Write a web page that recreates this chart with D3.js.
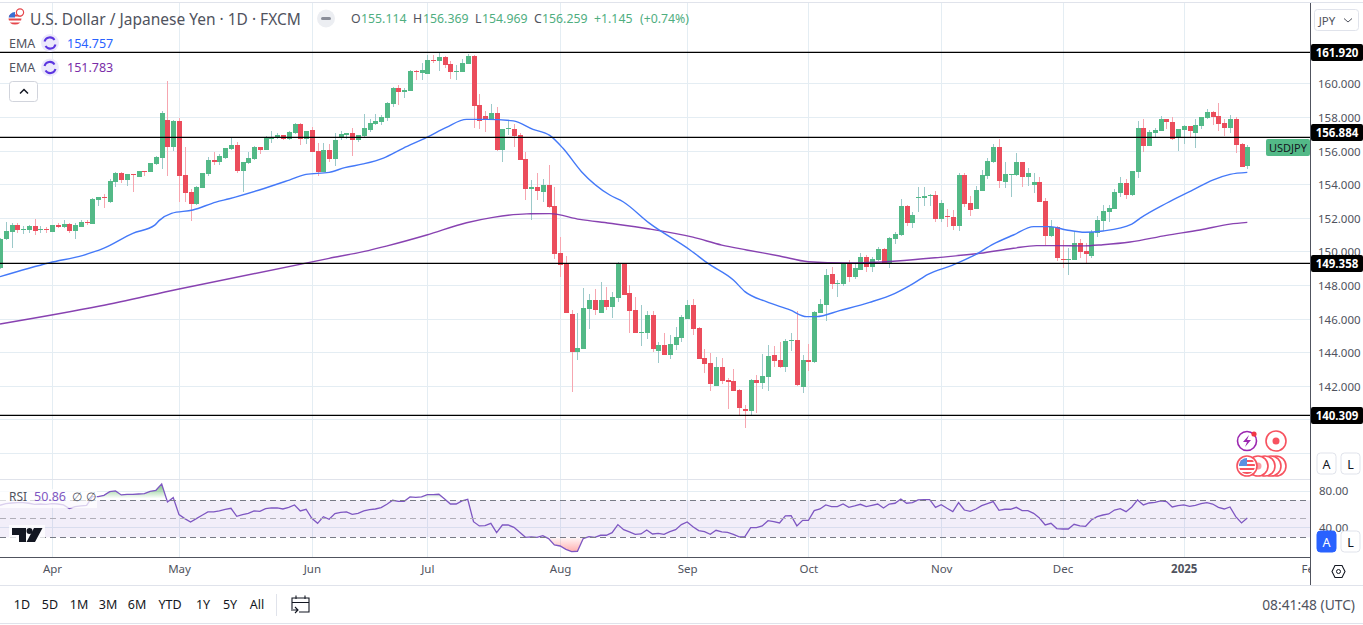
<!DOCTYPE html>
<html><head><meta charset="utf-8">
<style>html,body{margin:0;padding:0;background:#fff;overflow:hidden}svg{display:block}text{font-family:"Noto Sans",sans-serif}</style>
<script src="https://cdn.jsdelivr.net/npm/d3@7/dist/d3.min.js"></script>
</head><body><svg id="c" width="1363" height="625"></svg>
<script>
const opens=[149.08,150.79,151.23,151.60,151.35,151.35,151.56,151.35,151.39,151.23,
151.62,151.52,151.68,151.29,151.52,151.80,151.70,153.13,153.29,152.99,
154.20,154.72,154.32,154.66,154.50,154.84,154.78,155.25,155.63,157.87,
156.27,157.81,154.60,153.59,152.87,153.83,154.66,155.49,155.37,155.61,
156.15,156.39,154.84,155.31,155.55,156.27,156.09,156.74,156.80,156.98,
156.74,157.10,157.64,156.74,157.28,156.03,154.78,156.09,155.55,156.86,
156.98,157.10,156.69,156.92,157.28,157.64,157.76,157.99,158.83,159.78,
159.54,159.60,160.79,160.67,160.61,161.45,161.39,161.63,161.21,160.73,
160.73,161.21,161.69,158.77,158.11,157.93,158.29,156.09,157.34,157.34,
156.98,155.55,153.77,153.89,153.59,154.01,152.76,149.96,149.30,146.33,
144.07,144.24,146.62,147.16,146.39,147.16,146.74,147.28,149.30,147.58,
146.57,145.20,145.20,146.27,144.12,144.48,143.89,144.48,144.90,146.03,
146.86,145.49,143.71,143.41,142.04,143.17,142.40,142.34,141.80,140.67,
140.55,142.40,142.22,142.58,143.89,143.59,143.17,144.72,144.78,141.98,
143.59,143.47,146.39,146.86,148.71,148.11,148.11,149.30,148.53,148.95,
149.72,149.13,149.54,150.20,149.36,150.79,151.03,152.76,151.74,153.23,
153.23,153.35,153.41,151.98,152.16,152.10,151.57,154.60,152.93,152.58,
153.65,154.54,155.38,156.27,154.19,154.60,154.60,155.38,154.49,154.01,
154.19,153.05,150.97,151.51,149.60,149.54,149.54,150.55,150.08,149.78,
151.15,151.86,152.40,152.58,153.53,154.12,153.41,154.78,157.40,156.33,
157.10,157.22,157.94,157.76,156.80,157.28,157.52,157.10,157.52,157.99,
158.35,158.11,157.70,157.40,157.94,156.45,155.114];
const highs=[150.85,151.78,151.72,151.72,151.56,151.62,151.96,151.56,151.52,151.64,
151.76,151.92,151.76,151.72,151.92,151.92,153.23,153.29,153.47,154.36,
154.78,154.78,154.66,154.66,154.84,154.84,155.31,155.73,158.41,160.19,
157.87,157.97,156.27,153.77,153.95,154.72,155.67,155.97,155.85,156.21,
156.80,156.56,155.37,155.97,156.33,156.27,156.92,157.22,157.10,156.98,
157.22,157.70,157.70,157.22,157.46,156.50,156.50,156.44,157.10,157.22,
157.10,157.40,156.98,158.23,157.93,158.23,158.17,158.95,159.84,159.96,
159.78,160.85,160.85,161.27,161.74,161.74,161.92,161.69,161.39,161.15,
161.51,161.80,161.74,159.42,158.41,158.83,158.65,157.34,157.87,157.64,
157.10,155.97,154.30,154.72,154.36,155.20,153.89,150.91,149.78,146.57,
146.39,147.87,147.52,147.82,148.23,147.93,147.64,149.42,149.30,148.05,
147.34,146.86,146.51,146.51,144.66,145.20,145.08,145.55,146.27,147.16,
147.22,145.55,144.24,144.01,143.77,143.71,142.52,143.05,141.86,140.91,
142.46,142.70,143.95,144.48,144.42,144.66,144.84,145.20,146.51,143.89,
144.54,146.51,147.22,149.01,149.12,148.35,149.36,149.54,149.36,149.96,
149.84,149.72,150.32,150.26,150.91,151.21,153.17,152.82,152.40,153.89,
153.89,153.47,153.65,153.11,152.58,152.52,154.72,154.72,153.35,153.95,
154.90,155.61,156.45,156.74,155.38,154.66,155.91,155.38,155.02,154.72,
154.48,153.23,151.92,151.57,150.73,150.26,151.21,150.79,150.55,151.33,
152.16,152.82,152.82,153.77,154.48,154.36,154.84,157.82,157.94,157.28,
157.40,158.11,157.94,158.05,157.34,157.58,157.52,157.94,158.05,158.53,
158.41,158.89,157.94,158.17,158.05,156.51,156.369];
const lows=[149.00,150.73,150.27,151.17,151.09,151.17,151.03,151.17,151.13,151.21,
151.46,151.42,151.13,150.81,151.48,151.62,151.68,152.77,152.62,152.95,
153.91,154.14,153.97,153.61,154.46,154.54,154.78,155.20,154.96,154.54,
156.03,152.99,152.99,151.86,152.81,153.83,154.54,155.20,155.20,155.55,
156.09,154.72,153.59,155.25,155.49,155.85,156.09,156.50,156.74,156.68,
156.68,157.04,156.39,156.44,155.97,154.54,154.78,155.37,155.14,156.69,
156.74,155.73,156.57,156.86,157.16,157.58,157.58,157.82,158.65,158.77,
159.19,159.60,160.26,160.26,160.61,161.27,160.79,160.97,160.32,160.26,
160.73,161.21,157.40,157.34,157.16,157.87,156.03,155.37,156.98,156.27,
155.49,153.11,151.92,153.11,152.99,152.64,149.60,148.53,146.39,141.69,
143.59,144.24,145.43,146.27,146.39,146.57,146.09,147.04,147.46,145.20,
145.20,144.42,144.84,144.07,143.41,143.89,143.65,144.19,144.66,146.03,
145.08,143.65,142.82,141.74,142.04,142.16,140.67,141.74,140.26,139.54,
140.32,140.44,141.86,141.74,143.17,143.11,142.88,144.12,142.04,141.62,
142.94,143.41,146.39,145.91,147.82,147.34,147.99,148.23,148.41,148.95,
148.83,148.83,149.48,149.36,149.07,150.49,150.97,151.57,151.45,152.40,
152.76,152.76,151.80,151.80,151.51,151.33,151.27,152.70,152.16,152.58,
153.65,154.36,155.32,153.83,153.83,153.29,154.54,153.89,153.95,153.53,
153.00,150.43,150.91,149.48,149.07,148.65,149.54,149.66,149.37,149.66,
150.91,151.27,151.80,152.58,153.29,153.17,153.35,154.42,155.97,156.33,
156.86,157.22,157.34,156.69,156.03,156.45,156.86,156.21,157.34,157.94,
157.58,157.22,156.92,157.10,155.91,155.08,154.969];
const closes=[150.81,151.25,151.60,151.35,151.39,151.56,151.29,151.39,151.35,151.62,
151.52,151.68,151.29,151.60,151.80,151.76,153.17,153.29,153.25,154.24,
154.72,154.30,154.66,154.62,154.84,154.80,155.31,155.67,158.29,156.27,
157.81,154.54,153.53,152.87,153.89,154.72,155.49,155.39,155.73,156.21,
156.39,154.84,155.37,155.61,156.27,156.09,156.80,156.84,156.98,156.74,
157.16,157.64,156.74,157.22,155.97,154.78,156.09,155.55,156.69,157.04,
157.10,156.69,156.98,157.40,157.70,157.82,158.05,158.89,159.78,159.54,
159.66,160.79,160.75,160.85,161.45,161.39,161.63,161.15,160.73,160.79,
161.27,161.69,158.71,157.82,157.93,158.29,156.09,157.34,157.40,156.92,
155.49,153.77,153.89,153.65,154.01,152.70,149.90,149.24,146.39,144.07,
144.30,146.68,147.16,146.57,147.16,146.74,147.34,149.30,147.46,146.51,
145.20,145.26,146.27,144.24,144.48,143.89,144.54,144.96,146.15,146.86,
145.43,143.65,143.35,142.16,143.17,142.34,142.28,141.74,140.73,140.55,
142.40,142.22,142.64,143.83,143.53,143.17,144.72,144.78,142.10,143.59,
143.47,146.45,146.92,148.65,148.11,148.17,149.30,148.53,149.07,149.72,
149.12,149.60,150.20,149.36,150.85,151.09,152.76,151.74,152.22,153.29,
153.35,153.41,151.98,152.93,152.10,151.57,154.60,152.88,152.52,153.71,
154.60,155.43,156.27,154.25,154.66,154.66,155.38,154.49,154.72,154.19,
153.00,150.97,151.51,149.66,149.54,149.60,150.55,150.02,149.90,151.21,
151.92,152.46,152.64,153.59,154.12,153.41,154.84,157.40,156.33,157.16,
157.28,157.94,157.76,156.75,157.34,157.52,157.22,157.58,158.05,158.35,
158.05,157.64,157.40,157.94,156.39,155.08,156.259];
const emaFastBars=[0,8.6,14.4,17.9,23,26.8,27.6,29.7,33.4,37.4,39.7,44.9,50.1,53,57,59.7,62.9,66.4,69.8,73.9,77.3,80.8,84.3,88.9,92.3,95.2,97.5,100.7,105.6,107.9,112.5,119.5,122.6,127,129,132.7,136.8,139.7,141.4,145.4,150.6,155,158.2,160.7,165,168.5,172,175.5,179,181.8,184.7,187.9,191,196,197.4,202,206.6,210,213,216];
const emaFastValues=[148.55,149.38,149.82,150.23,151.13,151.62,151.90,152.32,152.52,152.99,153.19,153.71,154.30,154.64,154.76,155.04,155.26,155.61,156.19,156.84,157.44,157.91,157.91,157.82,157.32,156.96,156.19,154.80,153.41,153.01,151.72,150.14,149.34,148.35,147.66,147.06,146.57,146.17,146.17,146.53,147.02,147.56,148.15,148.69,149.24,149.78,150.49,151.03,151.53,151.53,151.33,151.19,151.27,151.68,152.02,152.92,153.71,154.30,154.64,154.757];
const emaSlowBars=[0,17.3,30.8,57,62.9,66.9,73.9,80.8,85.4,91.2,95.2,100.4,105.6,112.5,120,125,129.3,135,140,146.6,155.3,162.8,169.7,175.5,179.5,183,187.6,191,195.7,202,207.8,213,216];
const emaSlowValues=[145.73,146.80,147.80,149.64,150.04,150.37,151.03,151.76,152.08,152.29,152.30,151.96,151.73,151.39,150.90,150.43,150.14,149.78,149.44,149.36,149.48,149.70,149.94,150.24,150.40,150.40,150.38,150.45,150.61,151.01,151.33,151.68,151.783];
const rsiValues=[64.6,66.4,67.1,67.5,67.5,66.8,65.7,66.0,65.7,66.4,66.0,65.0,61.0,63.2,63.9,64.6,74.0,74.0,75.4,79.4,
80.1,75.8,76.5,76.5,76.8,77.2,79.7,80.8,87.7,68.2,72.9,54.5,50.2,46.6,50.2,53.8,57.4,57.4,58.5,60.3,
61.4,52.7,54.5,55.9,58.5,58.1,61.0,61.7,61.7,60.6,62.4,65.0,58.5,60.3,50.5,45.1,52.3,49.5,55.6,57.0,
57.4,54.9,55.9,58.5,59.9,60.6,62.1,65.7,70.0,68.9,68.9,73.6,73.2,73.6,76.1,76.1,76.5,71.4,66.0,66.0,
69.3,71.1,46.9,42.3,42.6,45.1,35.0,43.3,43.3,40.8,35.4,30.0,30.4,30.0,31.8,28.6,21.7,20.6,17.0,14.5,
14.9,28.6,30.7,30.0,32.2,32.2,35.0,43.7,38.3,35.8,33.2,33.6,37.9,33.6,34.3,33.2,36.1,38.3,43.7,46.6,
41.5,37.2,36.1,33.2,37.6,35.8,35.4,33.2,30.4,30.7,40.5,40.5,42.3,48.0,46.9,45.5,53.1,53.4,42.3,48.4,
48.4,58.8,60.6,65.0,63.2,63.2,66.0,62.4,63.9,65.7,63.2,64.6,66.0,61.7,66.0,66.8,71.4,66.8,67.5,70.4,
70.7,70.7,62.4,65.3,61.4,57.7,67.5,59.5,58.1,60.6,64.2,66.4,68.6,59.2,60.3,60.3,62.4,58.8,58.8,55.9,
50.9,43.3,45.1,39.4,39.0,39.0,44.1,42.3,41.9,48.7,52.3,54.1,55.2,59.5,61.0,57.7,62.8,70.4,65.0,67.1,
67.8,69.3,68.6,62.8,64.2,65.0,63.5,64.6,66.4,67.5,66.0,62.4,60.6,62.8,52.3,45.5,50.86];
const priceTicks=[138,140,142,144,146,148,150,152,154,156,158,160];
const levelLines=[161.920,156.884,149.358,140.309];
const rsiBands=[70,50,30];
const rsiTicks=[80,40];
const monthBars=[9,31,54,74,97,119,140,163,184,205,227];
const monthLabels=["Apr","May","Jun","Jul","Aug","Sep","Oct","Nov","Dec","2025","Feb"];
const rangeLabels=["1D","5D","1M","3M","6M","YTD","1Y","5Y","All"];
const headerTitle="U.S. Dollar / Japanese Yen · 1D · FXCM";

const GREEN="#53b987",RED="#eb4d5c",GREENW="#9cc9c9",REDW="#f6a6b0",GRID="#e4edf3",AXIS="#50535e",TXT="#50535e";
const svg=d3.select("#c");
const W=1310;
const x=d3.scaleLinear().domain([0,216]).range([0,1247.3]);
const y=d3.scaleLinear().domain([140,160]).range([420.3,84.3]);
const r=d3.scaleLinear().domain([30,70]).range([537.3,500.3]);
const crisp=v=>Math.round(v)+.5;
const defs=svg.append("defs");
defs.append("clipPath").attr("id","plot").append("rect").attr("x",0).attr("y",3).attr("width",W).attr("height",476);
defs.append("clipPath").attr("id","rpl").append("rect").attr("x",0).attr("y",480).attr("width",W).attr("height",77);
defs.append("clipPath").attr("id","over").append("rect").attr("x",0).attr("y",480).attr("width",W).attr("height",r(70)-480);
defs.append("clipPath").attr("id","under").append("rect").attr("x",0).attr("y",r(30)).attr("width",W).attr("height",557-r(30));
const gu=defs.append("linearGradient").attr("id","gOver").attr("gradientUnits","userSpaceOnUse").attr("x1",0).attr("x2",0).attr("y1",r(84)).attr("y2",r(72));
gu.append("stop").attr("offset",0).attr("stop-color","#4caf50").attr("stop-opacity",.6);
gu.append("stop").attr("offset",1).attr("stop-color","#4caf50").attr("stop-opacity",0);
const gd=defs.append("linearGradient").attr("id","gUnder").attr("gradientUnits","userSpaceOnUse").attr("x1",0).attr("x2",0).attr("y1",r(30)).attr("y2",r(13));
gd.append("stop").attr("offset",0).attr("stop-color","#ff5252").attr("stop-opacity",.04);
gd.append("stop").attr("offset",1).attr("stop-color","#ff5252").attr("stop-opacity",.5);

// grid
const grid=svg.append("g").attr("shape-rendering","crispEdges");
grid.selectAll(".h").data(priceTicks).join("line").attr("x1",0).attr("x2",W)
 .attr("y1",d=>crisp(y(d))-1).attr("y2",d=>crisp(y(d))-1).attr("stroke",GRID);
grid.selectAll(".v").data(monthBars.slice(0,10)).join("line").attr("y1",3).attr("y2",557)
 .attr("x1",d=>crisp(x(d))).attr("x2",d=>crisp(x(d))).attr("stroke",GRID);
grid.selectAll(".r").data(rsiTicks).join("line").attr("x1",0).attr("x2",W)
 .attr("y1",d=>crisp(r(d))-(d===40?1:0)).attr("y2",d=>crisp(r(d))-(d===40?1:0)).attr("stroke",GRID);
// frame lines
grid.append("line").attr("x1",0).attr("x2",1363).attr("y1",2.5).attr("y2",2.5).attr("stroke","#e0e3eb").attr("stroke-width",1);
grid.append("line").attr("x1",0).attr("x2",W).attr("y1",479.5).attr("y2",479.5).attr("stroke","#e0e3eb");
grid.append("line").attr("x1",0).attr("x2",1363).attr("y1",585.5).attr("y2",585.5).attr("stroke","#e0e3eb");
grid.append("line").attr("x1",0).attr("x2",1363).attr("y1",623.5).attr("y2",623.5).attr("stroke","#e0e3eb");

// candles
const idx=d3.range(opens.length);
const plot=svg.append("g").attr("clip-path","url(#plot)");
const cg=plot.append("g").attr("shape-rendering","crispEdges");
cg.selectAll(".w").data(idx).join("rect")
 .attr("x",i=>Math.round(x(i))).attr("width",1)
 .attr("y",i=>Math.round(y(highs[i]))).attr("height",i=>Math.max(1,Math.round(y(lows[i]))-Math.round(y(highs[i]))))
 .attr("fill",i=>closes[i]>=opens[i]?GREENW:REDW);
cg.selectAll(".b").data(idx).join("rect")
 .attr("x",i=>Math.round(x(i))-2).attr("width",5)
 .attr("y",i=>Math.round(y(Math.max(opens[i],closes[i]))))
 .attr("height",i=>Math.max(1,Math.round(y(Math.min(opens[i],closes[i])))-Math.round(y(Math.max(opens[i],closes[i])))))
 .attr("fill",i=>closes[i]>=opens[i]?GREEN:RED);

// EMA lines
const ln=d3.line().x(d=>x(d[0])).y(d=>y(d[1])).curve(d3.curveMonotoneX);
plot.append("path").attr("d",ln(d3.zip(emaSlowBars,emaSlowValues))).attr("fill","none").attr("stroke","#7b2ea8").attr("stroke-width",1.4).attr("opacity",.9);
plot.append("path").attr("d",ln(d3.zip(emaFastBars,emaFastValues))).attr("fill","none").attr("stroke","#4479f8").attr("stroke-width",1.4);

// level lines
svg.append("g").selectAll("line").data(levelLines).join("line")
 .attr("x1",0).attr("x2",W).attr("y1",d=>Math.round(y(d))+.4).attr("y2",d=>Math.round(y(d))+.4)
 .attr("stroke","#000").attr("stroke-width",1.2);

// RSI pane
const rp=svg.append("g").attr("clip-path","url(#rpl)");
rp.append("rect").attr("x",0).attr("width",W).attr("y",r(70)).attr("height",r(30)-r(70)).attr("fill","#7e57c2").attr("fill-opacity",.1);
svg.append("g").selectAll("line").data(rsiBands).join("line").attr("x1",0).attr("x2",W)
 .attr("y1",d=>Math.floor(r(d))+.5).attr("y2",d=>Math.floor(r(d))+.5).attr("stroke",d=>d===50?"#b0aeb8":"#787b86").attr("stroke-dasharray","6 4").attr("shape-rendering","crispEdges");
const aOver=d3.area().x((d,i)=>x(i)).y0(r(70)).y1(d=>r(d));
rp.append("path").attr("d",aOver(rsiValues)).attr("fill","url(#gOver)").attr("clip-path","url(#over)");
const aUnder=d3.area().x((d,i)=>x(i)).y0(r(30)).y1(d=>r(d));
rp.append("path").attr("d",aUnder(rsiValues)).attr("fill","url(#gUnder)").attr("clip-path","url(#under)");
rp.append("path").attr("d",d3.line().x((d,i)=>x(i)).y(d=>r(d))(rsiValues)).attr("fill","none").attr("stroke","#7e57c2").attr("stroke-width",1.3);
// RSI legend backing + text
svg.append("rect").attr("x",0).attr("y",489).attr("width",97).attr("height",19).attr("fill","#fff").attr("opacity",.72);
const tx=(X,Y,s,fill,size,anchor,extra)=>{const t=svg.append("text").attr("x",X).attr("y",Y).text(s).attr("fill",fill).attr("font-size",size).attr("text-anchor",anchor||"start").attr("dominant-baseline","central");if(extra)extra(t);return t;};
tx(9,496.5,"RSI","#50535e",12);
tx(34,496.5,"50.86","#7e57c2",12.5);
tx(77,496.5,"∅","#50535e",12,"middle");
tx(91,496.5,"∅","#50535e",12,"middle");
// TV logo
const lg=svg.append("g");
lg.append("rect").attr("x",9).attr("y",525).attr("width",36).attr("height",20).attr("fill","#fff").attr("opacity",.75);
lg.append("path").attr("d","M12 528H26V542H19V535H12Z M34 528H42.5L35 542H26.5Z").attr("fill","#131722");
lg.append("circle").attr("cx",29.5).attr("cy",531).attr("r",3).attr("fill","#131722");

// axes
const yAxis=d3.axisRight(y).tickValues(priceTicks.slice(2)).tickSize(0).tickPadding(0).tickFormat(d3.format(".3f"));
const ya=svg.append("g").attr("transform","translate(1318,0)").call(yAxis);
ya.select(".domain").remove();
ya.selectAll("text").attr("fill",TXT).attr("font-size",11.5).attr("font-family",'"Noto Sans",sans-serif');
const rAxis=d3.axisRight(r).tickValues(rsiTicks).tickSize(0).tickPadding(0).tickFormat(d3.format(".2f"));
const ra=svg.append("g").attr("transform","translate(1319,0)").call(rAxis);
ra.select(".domain").remove();
ra.selectAll("text").attr("fill",TXT).attr("font-size",11.5).attr("font-family",'"Noto Sans",sans-serif');
defs.append("clipPath").attr("id","tax2").append("rect").attr("x",0).attr("y",-10).attr("width",W).attr("height",30);
const xAxis=d3.axisBottom(x).tickValues(monthBars).tickSize(0).tickPadding(0).tickFormat((d,i)=>monthLabels[i]);
const xa=svg.append("g").attr("transform","translate(0,565)").attr("clip-path","url(#tax2)").call(xAxis);
xa.select(".domain").remove();
xa.selectAll("text").attr("fill",TXT).attr("font-size",11.5).attr("font-family",'"Noto Sans",sans-serif')
 .attr("font-weight",(d,i)=>monthLabels[i]==="2025"?700:400);

// level tags
const tagY=d=>Math.round(y(d))+(d===156.884?-4.5:.5);
const tags=svg.append("g").selectAll("g").data(levelLines).join("g");
tags.append("rect").attr("x",1311).attr("width",52).attr("height",17).attr("rx",2).attr("y",d=>tagY(d)-8.5).attr("fill","#000");
tags.append("text").attr("x",1337).attr("y",tagY).attr("text-anchor","middle").attr("dominant-baseline","central")
 .attr("fill","#fff").attr("font-size",11.5).attr("font-weight",700).text(d=>d3.format(".3f")(d));

// axis frame
const fr=svg.append("g").attr("shape-rendering","crispEdges");
fr.append("line").attr("x1",1310.5).attr("x2",1310.5).attr("y1",3).attr("y2",585).attr("stroke",AXIS);
fr.append("line").attr("x1",0).attr("x2",1310).attr("y1",557.5).attr("y2",557.5).attr("stroke",AXIS);

// symbol tag
svg.append("rect").attr("x",1266).attr("y",139).attr("width",44).attr("height",17).attr("rx",2).attr("fill",GREEN);
tx(1288,147.5,"USDJPY","#131722",11,"middle");

// header
const fl=svg.append("g").attr("transform","translate(15,18.5)");
fl.append("clipPath").attr("id","flc").append("circle").attr("r",6.5);
const fg=fl.append("g").attr("clip-path","url(#flc)");
fg.append("rect").attr("x",-7).attr("y",-7).attr("width",14).attr("height",14).attr("fill","#fff");
[-4,0,4].forEach(v=>fg.append("rect").attr("x",-7).attr("y",v).attr("width",14).attr("height",2).attr("fill","#e5484d"));
fg.append("rect").attr("x",-7).attr("y",-7).attr("width",7).attr("height",6).attr("fill","#3b6fd4");
fl.append("circle").attr("cx",5).attr("cy",-6).attr("r",3.6).attr("fill","#fff").attr("stroke","#e5484d").attr("stroke-width",1.2);
tx(30,18.5,headerTitle,"#50535e",15.5);
svg.append("circle").attr("cx",326).attr("cy",18.5).attr("r",9).attr("fill","#eceef2");
svg.append("rect").attr("x",321).attr("y",17).attr("width",10).attr("height",3).attr("rx",1.5).attr("fill","#8a8e99");
const HG="#4fae7f";
[[351,"O"],[413,"H"],[475,"L"],[534,"C"]].forEach(a=>tx(a[0],18.5,a[1],"#50535e",12.3));
[[361,"155.114"],[423,"156.369"],[482,"154.969"],[542,"156.259"],[594,"+1.145"],[640,"(+0.74%)"]].forEach(a=>tx(a[0],18.5,a[1],HG,12.3));
// EMA legends
[[43,"154.757","#2962ff"],[67.5,"151.783","#7b2ea8"]].forEach(a=>{
 tx(9,a[0],"EMA","#50535e",12.5);
 svg.append("circle").attr("cx",50).attr("cy",a[0]).attr("r",9).attr("fill","#ece9fb");
 svg.append("path").attr("d",`M44.5 ${a[0]-1.5}A5.5 5.5 0 0 1 54.5 ${a[0]-3} M55.5 ${a[0]+1.5}A5.5 5.5 0 0 1 45.5 ${a[0]+3}`).attr("fill","none").attr("stroke","#5b35e0").attr("stroke-width",2);
 tx(67,a[0],a[1],a[2],12.5);
});
svg.append("rect").attr("x",9.5).attr("y",81.5).attr("width",28).attr("height",20).attr("rx",3).attr("fill","#fff").attr("stroke","#d1d4dc");
svg.append("path").attr("d","M20 93.5L24 89.5L28 93.5").attr("fill","none").attr("stroke","#131722").attr("stroke-width",1.5);

// JPY button
svg.append("rect").attr("x",1314.5).attr("y",9.5).attr("width",44).attr("height",21).attr("rx",3).attr("fill","#fff").attr("stroke","#e0e3eb");
tx(1327,20,"JPY","#50535e",11.5,"middle");
svg.append("path").attr("d","M1344 18.5L1348 22L1352 18.5").attr("fill","none").attr("stroke","#50535e");

// A L buttons
const btn=(X,Y,s,on)=>{svg.append("rect").attr("x",X).attr("y",Y).attr("width",19).attr("height",21).attr("rx",3.5).attr("fill",on?"#2962ff":"#fff").attr("stroke",on?"#2962ff":"#e0e3eb");
 tx(X+9.5,Y+11,s,on?"#fff":"#131722",12.5,"middle");};
btn(1317,453,"A",false);btn(1341,453,"L",false);btn(1317,531,"A",true);btn(1341,531,"L",false);
// settings hexagon
svg.append("path").attr("d","M1332 571.5L1335 565.5H1342L1345 571.5L1342 577.5H1335Z").attr("fill","none").attr("stroke","#131722").attr("stroke-width",1.1);
svg.append("circle").attr("cx",1338.5).attr("cy",571.5).attr("r",2).attr("fill","none").attr("stroke","#131722");

// events
const ev=svg.append("g");
ev.append("circle").attr("cx",1247).attr("cy",441).attr("r",9.5).attr("fill","#fff").attr("stroke","#9c27b0").attr("stroke-width",1.6);
ev.append("path").attr("d","M1249 435L1243 442H1247L1245 447L1251 440H1247Z").attr("fill","#9c27b0");
ev.append("circle").attr("cx",1254).attr("cy",434).attr("r",2.6).attr("fill","#f23645");
ev.append("circle").attr("cx",1276).attr("cy",441).attr("r",10).attr("fill","#fff").attr("stroke","#f7525f").attr("stroke-width",1.6);
ev.append("circle").attr("cx",1276).attr("cy",441).attr("r",3.5).attr("fill","#f7525f");
[1276,1271,1265,1258].forEach(cx=>{ev.append("circle").attr("cx",cx).attr("cy",466).attr("r",10).attr("fill","#fff").attr("stroke","#f7525f").attr("stroke-width",1.6);
 ev.append("circle").attr("cx",cx).attr("cy",466).attr("r",3.5).attr("fill","#f9a0a8");});
ev.append("circle").attr("cx",1247).attr("cy",466).attr("r",10).attr("fill","#fff").attr("stroke","#f7525f").attr("stroke-width",1.6);
ev.append("clipPath").attr("id","fc2").append("circle").attr("cx",1247).attr("cy",466).attr("r",8);
const f2=ev.append("g").attr("clip-path","url(#fc2)");
[460,464,468,472].forEach(v=>f2.append("rect").attr("x",1238).attr("y",v).attr("width",18).attr("height",2).attr("fill","#f7525f"));
f2.append("rect").attr("x",1238).attr("y",458).attr("width",9).attr("height",8).attr("fill","#5b8fe0");

// bottom bar
const rangeX=[22,50,79,108,137,170,203,230,257];
rangeLabels.forEach((s,i)=>tx(rangeX[i],604,s,"#131722",12.5,"middle"));
svg.append("line").attr("x1",276.5).attr("x2",276.5).attr("y1",594).attr("y2",616).attr("stroke","#e0e3eb").attr("shape-rendering","crispEdges");
svg.append("path").attr("d","M292 609V598H309V612H299 M292 602.5H309 M296 595.5V599 M305 595.5V599 M291 610H298M295 607L298 610L295 613").attr("fill","none").attr("stroke","#131722").attr("stroke-width",1.1);
tx(1355,604,"08:41:48 (UTC)","#50535e",13.8,"end");
</script></body></html>
